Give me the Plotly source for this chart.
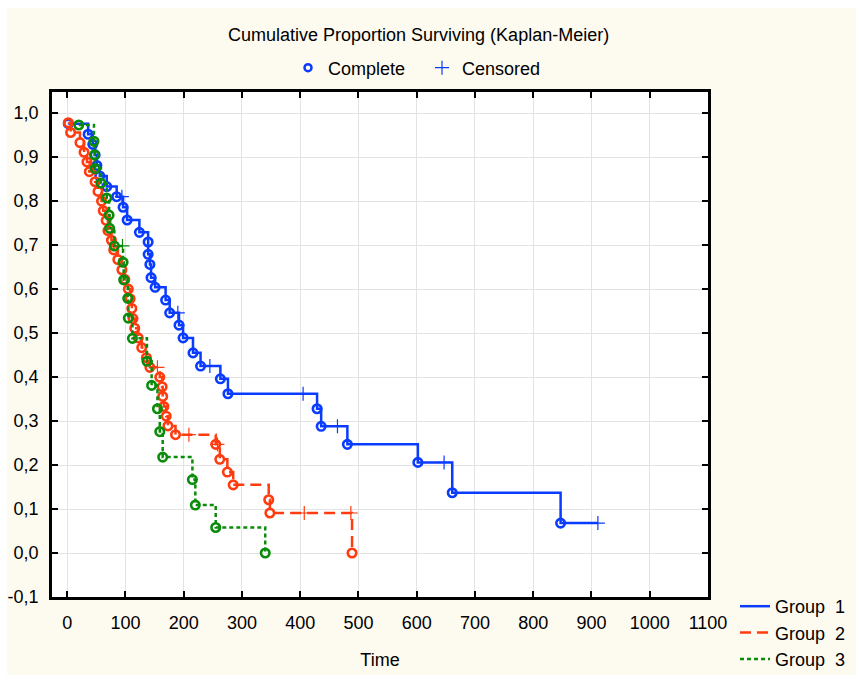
import plotly.graph_objects as go

# ---------------- data ----------------
g1_event_t = [2, 36, 44, 48, 51, 56, 68, 85, 96, 103, 124, 139, 139, 142, 144, 151, 169, 176,
              192, 199, 216, 229, 263, 276, 429, 436, 481, 602, 661, 847]
g1_event_s = [0.976, 0.952, 0.929, 0.905, 0.881, 0.857, 0.833, 0.810, 0.786, 0.757, 0.729, 0.707,
              0.679, 0.656, 0.626, 0.604, 0.575, 0.546, 0.518, 0.489, 0.455, 0.425, 0.396, 0.362,
              0.328, 0.288, 0.247, 0.206, 0.137, 0.068]
g1_cens_t = [94, 190, 245, 405, 464, 647, 911]
g1_cens_s = [0.810, 0.546, 0.425, 0.362, 0.288, 0.206, 0.068]

g2_event_t = [2, 6, 22, 29, 34, 38, 48, 53, 59, 62, 67, 70, 76, 80, 87, 94, 99, 105, 108, 111,
              113, 116, 122, 128, 136, 142, 159, 163, 164, 166, 170, 173, 186, 255, 262, 275,
              285, 346, 348, 489]
g2_event_s = [0.978, 0.956, 0.933, 0.911, 0.889, 0.867, 0.844, 0.822, 0.800, 0.778, 0.756, 0.733,
              0.711, 0.689, 0.667, 0.644, 0.622, 0.600, 0.578, 0.556, 0.533, 0.511, 0.489, 0.467,
              0.444, 0.422, 0.400, 0.378, 0.356, 0.333, 0.311, 0.289, 0.269, 0.247, 0.213, 0.184,
              0.155, 0.121, 0.091, 0.0]
g2_cens_t = [155, 209, 258, 407, 487]
g2_cens_s = [0.422, 0.269, 0.247, 0.091, 0.091]

g3_event_t = [20, 46, 47, 48, 58, 68, 72, 73, 81, 96, 97, 104, 105, 112, 137, 145, 155, 159,
              164, 215, 220, 255, 340]
g3_event_s = [0.973, 0.936, 0.905, 0.874, 0.841, 0.807, 0.768, 0.738, 0.698, 0.661, 0.621, 0.579,
              0.534, 0.488, 0.436, 0.381, 0.328, 0.276, 0.218, 0.167, 0.109, 0.058, 0.0]
g3_cens_t = [95]
g3_cens_s = [0.698]

group_names = ["Group  1", "Group  2", "Group  3"]
x_ticks = list(range(0, 1101, 100))
y_ticks = [-0.1, 0.0, 0.1, 0.2, 0.3, 0.4, 0.5, 0.6, 0.7, 0.8, 0.9, 1.0]
y_labels = ["-0,1", "0,0", "0,1", "0,2", "0,3", "0,4", "0,5", "0,6", "0,7", "0,8", "0,9", "1,0"]

title_text = "Cumulative Proportion Surviving (Kaplan-Meier)"
x_title = "Time"

# ---------------- styling ----------------
FONT = "Arial, 'Liberation Sans', sans-serif"
colors = ["#0A3CFF", "#FF3B0F", "#0A8C0A"]
dashes = ["solid", "11px,6px", "4px,3px"]
CREAM = "#FDFAF0"

# plot area in pixels
W, H = 856, 675
L, R, T, B = 52, 708, 92, 597


def px2paper_x(px):
    return (px - L) / (R - L)


def px2paper_y(py):
    return (B - py) / (B - T)


fig = go.Figure()

groups = [
    (g1_event_t, g1_event_s, g1_cens_t, g1_cens_s),
    (g2_event_t, g2_event_s, g2_cens_t, g2_cens_s),
    (g3_event_t, g3_event_s, g3_cens_t, g3_cens_s),
]

CIRC = dict(symbol="circle-open", size=8.5)
CROSS = dict(symbol="cross-thin-open", size=10)

for i, (et, es, ct, cs) in enumerate(groups):
    pts = sorted([(t, s) for t, s in zip(et, es)] + [(t, s) for t, s in zip(ct, cs)],
                 key=lambda p: (p[0], -p[1]))
    lx = [p[0] for p in pts]
    ly = [p[1] for p in pts]
    fig.add_trace(go.Scatter(x=lx, y=ly, mode="lines", line=dict(shape="hv", color=colors[i],
                             width=2.5, dash=dashes[i]), showlegend=False, hoverinfo="skip"))
    fig.add_trace(go.Scatter(x=et, y=es, mode="markers",
                             marker=dict(**CIRC, color=colors[i],
                                         line=dict(width=2.6, color=colors[i])),
                             showlegend=False))
    fig.add_trace(go.Scatter(x=ct, y=cs, mode="markers",
                             marker=dict(**CROSS, color=colors[i],
                                         line=dict(width=1.2, color=colors[i])),
                             showlegend=False))

# legend entries: groups (bottom right)
for i in range(3):
    fig.add_trace(go.Scatter(x=[None], y=[None], mode="lines", name=group_names[i],
                             line=dict(color=colors[i], width=2.5, dash=dashes[i]),
                             legend="legend"))

# legend entries: symbols (top)
fig.add_trace(go.Scatter(x=[None], y=[None], mode="markers", name="Complete",
                         marker=dict(symbol="circle-open", size=7, color=colors[0],
                                     line=dict(width=2.5, color=colors[0])),
                         legend="legend2"))
fig.add_trace(go.Scatter(x=[None], y=[None], mode="markers", name="Censored",
                         marker=dict(**CROSS, color=colors[0],
                                     line=dict(width=1.2, color=colors[0])),
                         legend="legend2"))

axis_common = dict(showline=True, linecolor="black", linewidth=2.5, mirror="ticks",
                   ticks="inside", ticklen=6, tickwidth=2, tickcolor="black",
                   showgrid=True, gridcolor="#E3E3E3", gridwidth=1, zeroline=False,
                   tickfont=dict(family=FONT, size=18, color="black"))

fig.update_layout(
    width=W, height=H,
    margin=dict(l=L, r=W - R, t=T, b=H - B, pad=0, autoexpand=False),
    paper_bgcolor=CREAM, plot_bgcolor="white",
    font=dict(family=FONT, size=18, color="black"),
    xaxis=dict(range=[-26, 1100], tickvals=x_ticks, ticklabelstandoff=8,
               title=dict(text=x_title, font=dict(family=FONT, size=18), standoff=22),
               **axis_common),
    yaxis=dict(range=[-0.1, 1.048], tickvals=y_ticks, ticktext=y_labels, ticklabelstandoff=7,
               **axis_common),
    legend=dict(x=px2paper_x(735), y=px2paper_y(588), xanchor="left", yanchor="top",
                bgcolor="rgba(0,0,0,0)", font=dict(family=FONT, size=18), orientation="v",
                tracegroupgap=0),
    legend2=dict(x=px2paper_x(288), y=px2paper_y(68), xanchor="left", yanchor="middle",
                 bgcolor="rgba(0,0,0,0)", font=dict(family=FONT, size=18), orientation="h",
                 entrywidth=89, entrywidthmode="pixels"),
    annotations=[dict(text=title_text, x=px2paper_x(418), y=px2paper_y(35), xref="paper",
                      yref="paper", showarrow=False, xanchor="center", yanchor="middle",
                      font=dict(family=FONT, size=18, color="black"))],
    shapes=[
        dict(type="rect", xref="paper", yref="paper", layer="below", line=dict(width=0),
             fillcolor="white", x0=px2paper_x(0), x1=px2paper_x(7),
             y0=px2paper_y(H), y1=px2paper_y(0)),
        dict(type="rect", xref="paper", yref="paper", layer="below", line=dict(width=0),
             fillcolor="white", x0=px2paper_x(0), x1=px2paper_x(W),
             y0=px2paper_y(8), y1=px2paper_y(0)),
    ],
)

fig.write_html("out.html")
